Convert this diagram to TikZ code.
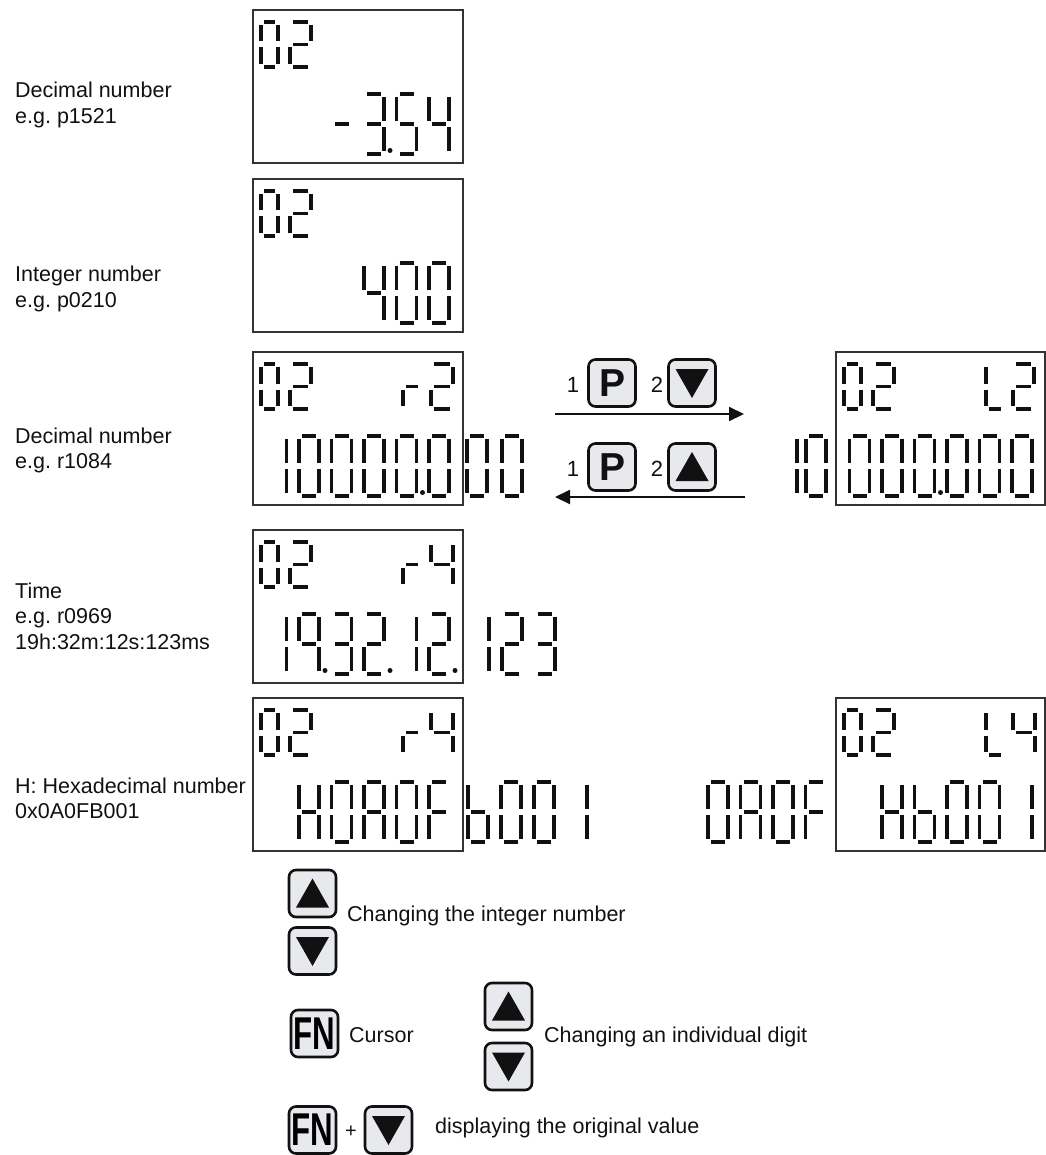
\documentclass[tikz,border=0pt]{standalone}
\usepackage{fontspec}
\setmainfont{Liberation Sans}
\usepackage{graphicx}
\usetikzlibrary{arrows.meta}
\definecolor{keyfill}{HTML}{E7E9EC}
\definecolor{ink}{HTML}{111111}
\definecolor{frame}{HTML}{333333}
\frenchspacing

\def\gp{3}
\def\segXa{\draw[sg] (\gp,0) -- (\dW-\gp,0);}
\def\segXb{\draw[sg] (\dW,\gp) -- (\dW,\dH/2-\gp);}
\def\segXc{\draw[sg] (\dW,\dH/2+\gp) -- (\dW,\dH-\gp);}
\def\segXd{\draw[sg] (\gp,\dH) -- (\dW-\gp,\dH);}
\def\segXe{\draw[sg] (0,\dH/2+\gp) -- (0,\dH-\gp);}
\def\segXf{\draw[sg] (0,\gp) -- (0,\dH/2-\gp);}
\def\segXg{\draw[sg] (\gp,\dH/2) -- (\dW-\gp,\dH/2);}
\newcommand\ssdig[5]{\begin{scope}[shift={(#1,#2)}]\def\dW{#3}\def\dH{#4}\edef\seglist{#5}\foreach \sgi in \seglist {\csname segX\sgi\endcsname}\end{scope}}
\newcommand\bdig[3]{\ssdig{#1}{#2}{20}{60}{#3}}
\newcommand\sdig[4]{\ssdig{#1}{#2}{#3}{45}{#4}}
\newcommand\lcddot[2]{\fill[ink] (#1,#2) circle (2.5pt);}
\def\SgZero{a,b,c,d,e,f}
\def\SgOne{b,c}
\def\SgTwo{a,b,g,e,d}
\def\SgThree{a,b,g,c,d}
\def\SgFour{f,g,b,c}
\def\SgFive{a,f,g,c,d}
\def\SgNine{a,b,c,f,g}
\def\SgA{a,b,c,e,f,g}
\def\Sgb{f,e,d,c,g}
\def\SgF{a,f,g,e}
\def\SgH{b,c,e,f,g}
\def\SgL{f,e,d}
\def\SgR{e,g}
\def\SgMinus{g}
\newcommand\uptri[1]{\fill[ink] ([shift={(0,-15)}]#1.center) -- ([shift={(16.5,14)}]#1.center) -- ([shift={(-16.5,14)}]#1.center) -- cycle;}
\newcommand\dntri[1]{\fill[ink] ([shift={(0,15)}]#1.center) -- ([shift={(16.5,-14)}]#1.center) -- ([shift={(-16.5,-14)}]#1.center) -- cycle;}

\begin{document}
\begin{tikzpicture}[x=1pt,y=-1pt,
  sg/.style={line width=3.6pt, draw=ink, line cap=butt},
  lcd/.style={draw=frame, line width=2pt, minimum width=210pt, minimum height=153pt, anchor=north west, inner sep=0pt},
  lbl/.style={anchor=base west, inner sep=0pt, font=\fontsize{21.5}{25}\selectfont, text=ink},
  num/.style={inner sep=0pt, font=\fontsize{22}{22}\selectfont, text=ink},
  key/.style={draw=ink, fill=keyfill, line width=2.6pt, rounded corners=7pt, minimum width=47pt, minimum height=47pt, inner sep=0pt},
  pkey/.style={key, font=\fontsize{39}{39}\selectfont\bfseries, text=ink},
  arr/.style={line width=2pt, draw=ink, -{Triangle[length=15pt,width=14pt]}}]
\useasboundingbox (0,0) rectangle (1045,1155);

% ---- left labels
\node[lbl] (t1a) at (15,98) {Decimal number};
\node[lbl] (t1b) at (15,123.5) {e.g. p1521};
\node[lbl] (t2a) at (15,282) {Integer number};
\node[lbl] (t2b) at (15,307) {e.g. p0210};
\node[lbl] (t3a) at (15,443) {Decimal number};
\node[lbl] (t3b) at (15,468) {e.g. r1084};
\node[lbl] (t4a) at (15,598) {Time};
\node[lbl] (t4b) at (15,623.5) {e.g. r0969};
\node[lbl] (t4c) at (15,649) {19h:32m:12s:123ms};
\node[lbl] (t5a) at (15,793) {H: Hexadecimal number};
\node[lbl] (t5b) at (15,818) {0x0A0FB001};

% ---- display frames
\node[lcd] (box1) at (252,9) {};
\node[lcd] (box2) at (252,178) {};
\node[lcd] (box3) at (252,351) {};
\node[lcd] (box4) at (252,529) {};
\node[lcd] (box5) at (252,697) {};
\node[lcd, minimum width=209pt] (box3r) at (835,351) {};
\node[lcd, minimum width=209pt] (box5r) at (835,697) {};

% ---- row 1: 02 / -3.54
\sdig{261}{22}{17}{\SgZero}\sdig{290}{22}{21}{\SgTwo}
\bdig{331.5}{94}{\SgMinus}
\bdig{364}{94}{\SgThree}\lcddot{390}{150.5}
\bdig{396.5}{94}{\SgFive}
\bdig{429}{94}{\SgFour}

% ---- row 2: 02 / 400
\sdig{261}{191}{17}{\SgZero}\sdig{290}{191}{21}{\SgTwo}
\bdig{364}{263}{\SgFour}
\bdig{396.5}{263}{\SgZero}
\bdig{429}{263}{\SgZero}

% ---- row 3 left: 02 r2 / 10000.0|00
\sdig{261}{364}{17}{\SgZero}\sdig{290}{364}{21}{\SgTwo}
\sdig{403}{364}{18}{\SgR}\sdig{431}{364}{22}{\SgTwo}
\bdig{266.5}{436}{\SgOne}
\bdig{299}{436}{\SgZero}
\bdig{331.5}{436}{\SgZero}
\bdig{364}{436}{\SgZero}
\bdig{396.5}{436}{\SgZero}\lcddot{422.5}{492.5}
\bdig{429}{436}{\SgZero}
\bdig{467}{436}{\SgZero}
\bdig{502}{436}{\SgZero}

% ---- row 3 right: 02 L2 / 10|000.000
\sdig{844}{364}{17}{\SgZero}\sdig{873}{364}{21}{\SgTwo}
\sdig{986}{364}{18}{\SgL}\sdig{1013}{364}{21}{\SgTwo}
\bdig{777}{436}{\SgOne}
\bdig{806}{436}{\SgZero}
\bdig{849.5}{436}{\SgZero}
\bdig{882}{436}{\SgZero}
\bdig{914.5}{436}{\SgZero}\lcddot{940.5}{492.5}
\bdig{947}{436}{\SgZero}
\bdig{979.5}{436}{\SgZero}
\bdig{1012}{436}{\SgZero}

% ---- row 4: 02 r4 / 19.32. 12.|123
\sdig{261}{542}{17}{\SgZero}\sdig{290}{542}{21}{\SgTwo}
\sdig{403}{542}{18}{\SgR}\sdig{431}{542}{22}{\SgFour}
\bdig{266.5}{614}{\SgOne}
\bdig{299}{614}{\SgNine}\lcddot{325}{670.5}
\bdig{331.5}{614}{\SgThree}
\bdig{364}{614}{\SgTwo}\lcddot{390}{670.5}
\bdig{396.5}{614}{\SgOne}
\bdig{429}{614}{\SgTwo}\lcddot{455}{670.5}
\bdig{469}{614}{\SgOne}
\bdig{502}{614}{\SgTwo}
\bdig{535}{614}{\SgThree}

% ---- row 5 left: 02 r4 / H0A0F|b001
\sdig{261}{710}{17}{\SgZero}\sdig{290}{710}{21}{\SgTwo}
\sdig{403}{710}{18}{\SgR}\sdig{431}{710}{22}{\SgFour}
\bdig{299}{782}{\SgH}
\bdig{331.5}{782}{\SgZero}
\bdig{364}{782}{\SgA}
\bdig{396.5}{782}{\SgZero}
\bdig{429}{782}{\SgF}
\bdig{468}{782}{\Sgb}
\bdig{501}{782}{\SgZero}
\bdig{534}{782}{\SgZero}
\bdig{567}{782}{\SgOne}

% ---- row 5 right: 02 L4 / 0A0F|Hb001
\sdig{844}{710}{17}{\SgZero}\sdig{873}{710}{21}{\SgTwo}
\sdig{986}{710}{18}{\SgL}\sdig{1013}{710}{22}{\SgFour}
\bdig{708}{782}{\SgZero}
\bdig{740.5}{782}{\SgA}
\bdig{773}{782}{\SgZero}
\bdig{805.5}{782}{\SgF}
\bdig{882}{782}{\SgH}
\bdig{914.5}{782}{\Sgb}
\bdig{947}{782}{\SgZero}
\bdig{979.5}{782}{\SgZero}
\bdig{1012}{782}{\SgOne}

% ---- key sequences and arrows
\node[num] (n1) at (573,385) {1};
\node[pkey] (kP1) at (612,383) {P};
\node[num] (n2) at (657,385) {2};
\node[key] (kD1) at (692,383) {};
\dntri{kD1}
\node[num] (n3) at (573,469) {1};
\node[pkey] (kP2) at (612,467) {P};
\node[num] (n4) at (657,469) {2};
\node[key] (kU1) at (692,467) {};
\uptri{kU1}
\coordinate (a1s) at (555,414);
\coordinate (a1e) at (744,414);
\coordinate (a2s) at (745,497);
\coordinate (a2e) at (555,497);
\draw[arr] (a1s) -- (a1e);
\draw[arr] (a2s) -- (a2e);

% ---- legend
\node[key] (kU2) at (312.5,893.5) {};
\uptri{kU2}
\node[key] (kD2) at (312.5,951) {};
\dntri{kD2}
\node[lbl] (l1) at (347,921) {Changing the integer number};
\node[key] (kFN1) at (314.5,1033.5) {\scalebox{0.68}[1]{\fontsize{46}{46}\selectfont\bfseries FN}};
\node[lbl] (l2) at (349,1042) {Cursor};
\node[key] (kU3) at (508.5,1006.5) {};
\uptri{kU3}
\node[key] (kD3) at (508.5,1066.5) {};
\dntri{kD3}
\node[lbl] (l3) at (544,1042) {Changing an individual digit};
\node[key] (kFN2) at (312.5,1130) {\scalebox{0.68}[1]{\fontsize{46}{46}\selectfont\bfseries FN}};
\node[num, font=\fontsize{20}{20}\selectfont] (plus) at (351,1132) {+};
\node[key] (kD4) at (388.5,1130) {};
\dntri{kD4}
\node[lbl] (l4) at (435,1133) {displaying the original value};
\end{tikzpicture}
\end{document}
